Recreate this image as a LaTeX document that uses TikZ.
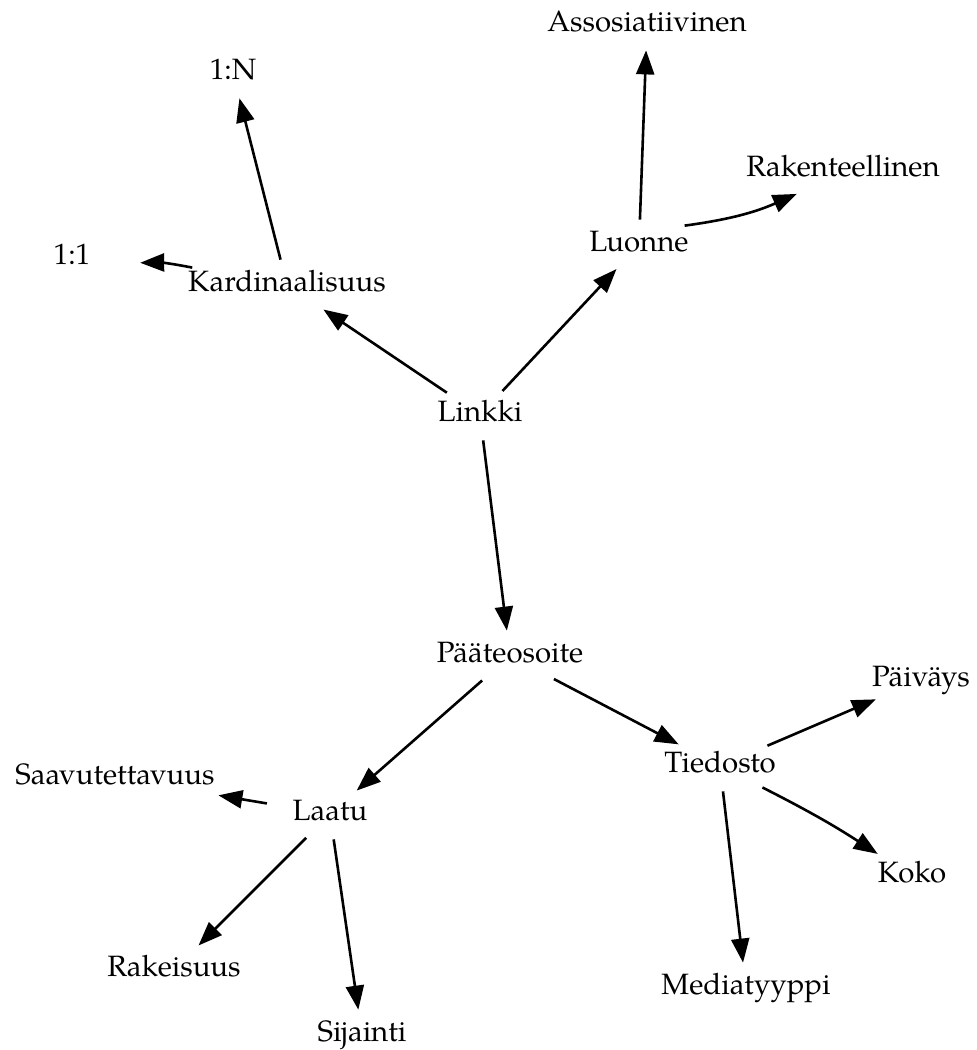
\documentclass[tikz,border=0pt]{standalone}
\usepackage{fontspec}
\setmainfont{TeX Gyre Pagella}
\usetikzlibrary{arrows.meta,shapes.geometric}

\tikzset{
  concept/.style={ellipse, inner sep=0pt, minimum width=69pt, minimum height=25pt,
    text height=10.3pt, text depth=3.7pt, font=\fontsize{14.7}{17}\selectfont},
  edge/.style={-{Triangle[length=12pt,width=9pt]}, line width=1.3pt},
}

\begin{document}
\begin{tikzpicture}[x=0.5pt, y=-0.5pt]
        \useasboundingbox (0,0) rectangle (976,1050);

        % Concepts
        \node[concept] (linkki) at (480,415) {Linkki};
        \node[concept] (kard) at (287,285) {Kardinaalisuus};
        \node[concept] (yy) at (72,258) {1:1};
        \node[concept] (yn) at (233,73) {1:N};
        \node[concept] (luonne) at (639,245) {Luonne};
        \node[concept] (assos) at (647,25) {Assosiatiivinen};
        \node[concept] (raken) at (843,170) {Rakenteellinen};
        \node[concept] (paate) at (510,656) {Pääteosoite};
        \node[concept] (laatu) at (330,814) {Laatu};
        \node[concept] (saavu) at (115,778) {Saavutettavuus};
        \node[concept] (rakei) at (174,970) {Rakeisuus};
        \node[concept] (sijai) at (362,1035) {Sijainti};
        \node[concept] (tied) at (720,766) {Tiedosto};
        \node[concept] (paiv) at (921,680) {Päiväys};
        \node[concept] (koko) at (912,876) {Koko};
        \node[concept] (media) at (746,988) {Mediatyyppi};

        % Relations
        \draw[edge] (linkki) -- (kard);
        \draw[edge] (linkki) -- (luonne);
        \draw[edge] (linkki) -- (paate);
        \draw[edge] (kard) -- (yn);
        \draw[edge] ([shift={(4,-24)}]kard.text) to[bend right=6] (yy.-4);
        \draw[edge] (luonne) -- (assos);
        \draw[edge] (luonne.23) to[bend right=8] (raken);
        \draw[edge] (paate) -- (laatu);
        \draw[edge] (paate) -- (tied);
        \draw[edge] (laatu) -- (saavu);
        \draw[edge] (laatu) -- (rakei);
        \draw[edge] (laatu) -- (sijai);
        \draw[edge] (tied) -- (paiv);
        \draw[edge] (tied) to[bend left=3] (koko);
        \draw[edge] (tied) -- (media);
\end{tikzpicture}
\end{document}
